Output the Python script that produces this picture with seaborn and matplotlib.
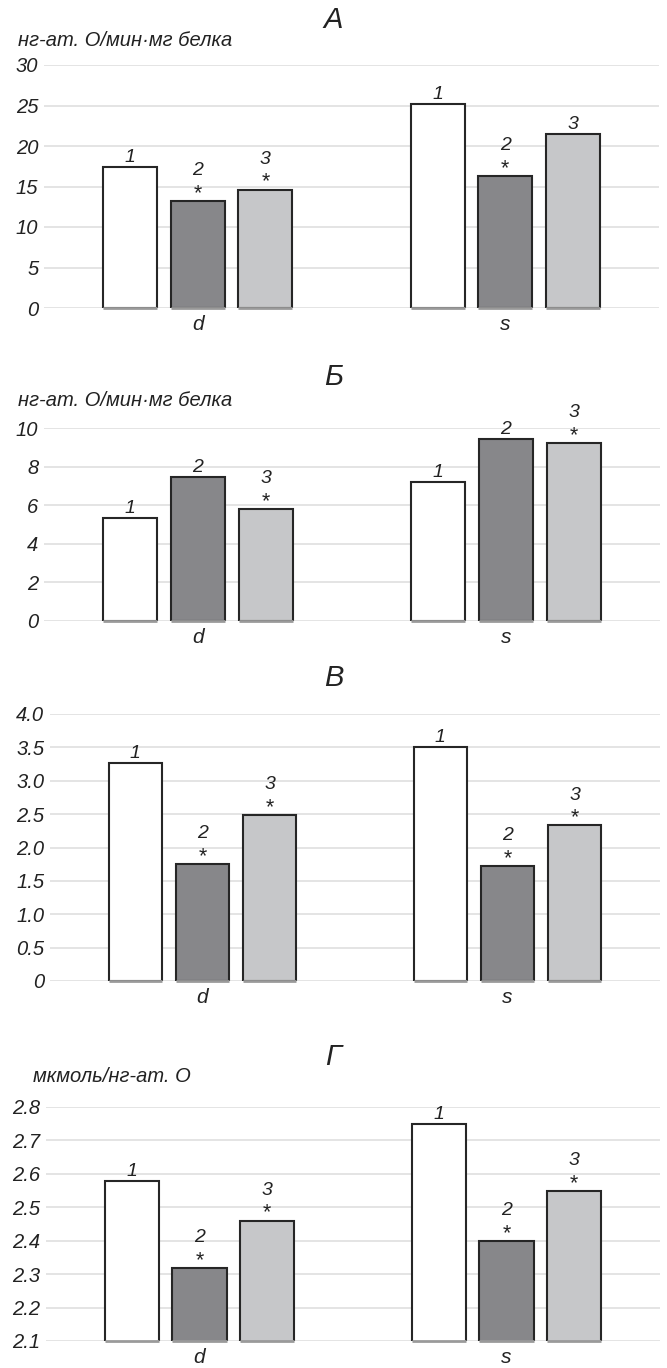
import matplotlib
matplotlib.use("Agg")
import matplotlib.pyplot as plt
import seaborn as sns
import pandas as pd

# values
groups = ['d', 's']
series = ['1', '2', '3']

vals_a = [[17.4, 13.2, 14.6], [25.2, 16.3, 21.5]]
vals_b = [[5.32, 7.47, 5.79], [7.19, 9.45, 9.2]]
vals_v = [[3.27, 1.75, 2.48], [3.5, 1.72, 2.33]]
vals_g = [[2.58, 2.317, 2.46], [2.75, 2.398, 2.549]]

stars_a = [[0, 1, 1], [0, 1, 0]]
stars_b = [[0, 0, 1], [0, 0, 1]]
stars_v = [[0, 1, 1], [0, 1, 1]]
stars_g = [[0, 1, 1], [0, 1, 1]]

titles = ['А', 'Б', 'В', 'Г']
ylabels = ['нг-ат. О/мин·мг белка', 'нг-ат. О/мин·мг белка', '', 'мкмоль/нг-ат. О']

ticks_a = [0, 5, 10, 15, 20, 25, 30]
ticks_b = [0, 2, 4, 6, 8, 10]
ticks_v = [0, 0.5, 1.0, 1.5, 2.0, 2.5, 3.0, 3.5, 4.0]
ticks_g = [2.1, 2.2, 2.3, 2.4, 2.5, 2.6, 2.7, 2.8]
labels_a = ['0', '5', '10', '15', '20', '25', '30']
labels_b = ['0', '2', '4', '6', '8', '10']
labels_v = ['0', '0.5', '1.0', '1.5', '2.0', '2.5', '3.0', '3.5', '4.0']
labels_g = ['2.1', '2.2', '2.3', '2.4', '2.5', '2.6', '2.7', '2.8']

palette = {'1': '#ffffff', '2': '#86878b', '3': '#c6c7c9'}

sns.set_style('white')
plt.rcParams['font.family'] = ['Liberation Sans', 'DejaVu Sans']

W, H = 667, 1368
fig = plt.figure(figsize=(W / 100, H / 100), dpi=100)

# pixel boxes: left, right, top, bottom
boxes = [(44, 659, 65, 308), (44, 660, 428, 621), (50, 660, 714, 981), (46, 660, 1107, 1341)]
title_y = [20, 377, 678, 1057]
ylab_pos = [(18, 40), (18, 401), (0, 0), (33, 1077)]

panels = [
    (vals_a, stars_a, ticks_a, labels_a),
    (vals_b, stars_b, ticks_b, labels_b),
    (vals_v, stars_v, ticks_v, labels_v),
    (vals_g, stars_g, ticks_g, labels_g),
]

txt = '#222222'

for k, (vals, stars, ticks, tlabels) in enumerate(panels):
    l, r, t, b = boxes[k]
    ax = fig.add_axes([l / W, 1 - b / H, (r - l) / W, (b - t) / H])
    df = pd.DataFrame({
        'group': [g for g in groups for s in series],
        'series': [s for g in groups for s in series],
        'value': [vals[i][j] for i in range(2) for j in range(3)],
    })
    sns.barplot(data=df, x='group', y='value', hue='series', palette=palette,
                width=0.66, gap=0.2, edgecolor='#262626', linewidth=1.5,
                legend=False, ax=ax, zorder=2)
    ax.set_ylim(ticks[0], ticks[-1])
    ax.set_xlim(-0.5, 1.5)
    ax.set_yticks(ticks)
    ax.set_yticklabels(tlabels, fontsize=14.5, style='italic', color=txt)
    ax.set_xticks([0, 1])
    ax.set_xticklabels(groups, fontsize=15, style='italic', color=txt)
    ax.tick_params(axis='both', length=0)
    ax.tick_params(axis='y', pad=4)
    ax.tick_params(axis='x', pad=5)
    ax.set_xlabel('')
    ax.set_ylabel('')
    ax.yaxis.grid(True, color='#dcdcdc', lw=1.1)
    ax.set_axisbelow(True)
    for sp in ax.spines.values():
        sp.set_visible(False)

    for j, cont in enumerate(ax.containers):
        for i, bar in enumerate(cont):
            cx = bar.get_x() + bar.get_width() / 2
            top = bar.get_y() + bar.get_height()
            ax.hlines(ticks[0], bar.get_x(), bar.get_x() + bar.get_width(),
                      color='#9a9a9a', lw=2, zorder=4, clip_on=False)
            if stars[i][j]:
                ax.annotate('*', (cx, top), xytext=(0, 1.5), textcoords='offset points',
                            ha='center', va='baseline', fontsize=15.5, color=txt,
                            annotation_clip=False)
                off = 18.7
            else:
                off = 3.6
            ax.annotate(series[j], (cx, top), xytext=(0, off), textcoords='offset points',
                        ha='center', va='baseline', fontsize=14, style='italic',
                        color=txt, annotation_clip=False)

    fig.text(0.5, 1 - title_y[k] / H, titles[k], ha='center', va='center',
             fontsize=21, style='italic', color=txt)
    if ylabels[k]:
        x0, y0 = ylab_pos[k]
        fig.text(x0 / W, 1 - y0 / H, ylabels[k], ha='left', va='center',
                 fontsize=14.5, style='italic', color=txt)

fig.savefig('out.png', dpi=100)
